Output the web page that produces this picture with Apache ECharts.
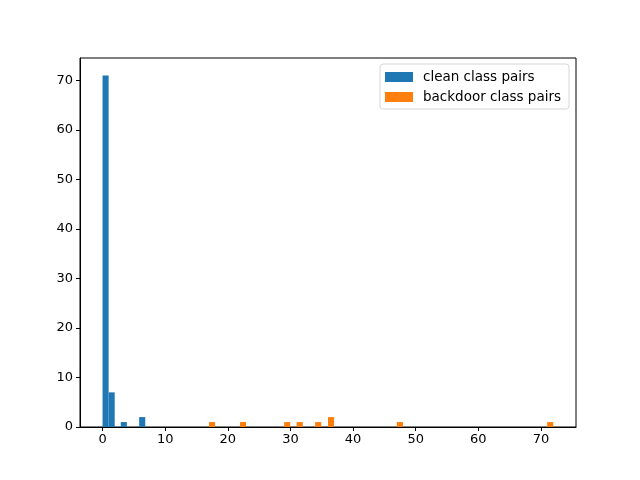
<!DOCTYPE html>
<html>
<head>
<meta charset="utf-8">
<script src="https://cdn.jsdelivr.net/npm/echarts@6/dist/echarts.min.js"></script>
<style>
  html, body { margin: 0; padding: 0; background: #fff; }
  #main { width: 640px; height: 480px; }
</style>
</head>
<body>
<div id="main"></div>
<script>
// histogram bins: left edge of each bin and its count
const binWidth = 0.97
const cleanBinStart = [0, 0.97, 2.91, 5.85]
const cleanCounts = [71, 7, 1, 2]
const backdoorBinStart = [17.0, 21.95, 29.0, 31.0, 33.95, 36.0, 47.0, 71.0]
const backdoorCounts = [1, 1, 1, 1, 1, 2, 1, 1]
const xTicks = [0, 10, 20, 30, 40, 50, 60, 70]
const yTicks = [0, 10, 20, 30, 40, 50, 60, 70]

const font = 'DejaVu Sans'

function toBars(starts, counts) {
  return starts.map((s, i) => [s, s + binWidth, counts[i]])
}

function renderBar(params, api) {
  const p0 = api.coord([api.value(0), api.value(2)])
  const p1 = api.coord([api.value(1), 0])
  return {
    type: 'rect',
    shape: { x: p0[0], y: p0[1], width: p1[0] - p0[0], height: p1[1] - p0[1] },
    style: { fill: api.visual('color'), stroke: null, lineWidth: 0 }
  }
}

const chart = echarts.init(document.getElementById('main'), null, { renderer: 'canvas' })
chart.setOption({
  animation: false,
  backgroundColor: '#fff',
  color: ['#1f77b4', '#ff7f0e'],
  grid: {
    left: 80,
    right: 64,
    top: 58,
    bottom: 53,
    show: true,
    borderColor: '#000',
    borderWidth: 1
  },
  legend: {
    orient: 'vertical',
    right: 71,
    top: 64,
    padding: [6, 8, 5, 5],
    itemWidth: 28,
    itemHeight: 10,
    itemGap: 6,
    icon: 'rect',
    borderColor: '#d6d6d6',
    borderWidth: 1,
    borderRadius: 3,
    backgroundColor: 'rgba(255,255,255,0.8)',
    textStyle: { fontFamily: font, fontSize: 13.5, color: '#000', padding: [0, 0, 0, 5] },
    data: ['clean class pairs', 'backdoor class pairs']
  },
  xAxis: {
    type: 'value',
    min: -3.6,
    max: 75.6,
    splitLine: { show: false },
    axisLine: { show: true, onZero: false, lineStyle: { color: '#000', width: 1 } },
    axisTick: { show: true, inside: false, length: 4, customValues: xTicks, lineStyle: { color: '#000' } },
    axisLabel: { customValues: xTicks, color: '#000', fontFamily: font, fontSize: 13, margin: 6 }
  },
  yAxis: {
    type: 'value',
    min: 0,
    max: 74.55,
    splitLine: { show: false },
    axisLine: { show: true, onZero: false, lineStyle: { color: '#000', width: 1 } },
    axisTick: { show: true, inside: false, length: 4, customValues: yTicks, lineStyle: { color: '#000' } },
    axisLabel: { customValues: yTicks, color: '#000', fontFamily: font, fontSize: 13, margin: 7 }
  },
  series: [
    {
      name: 'clean class pairs',
      type: 'custom',
      renderItem: renderBar,
      encode: { x: [0, 1], y: 2 },
      data: toBars(cleanBinStart, cleanCounts)
    },
    {
      name: 'backdoor class pairs',
      type: 'custom',
      renderItem: renderBar,
      encode: { x: [0, 1], y: 2 },
      data: toBars(backdoorBinStart, backdoorCounts)
    }
  ]
})
</script>
</body>
</html>
